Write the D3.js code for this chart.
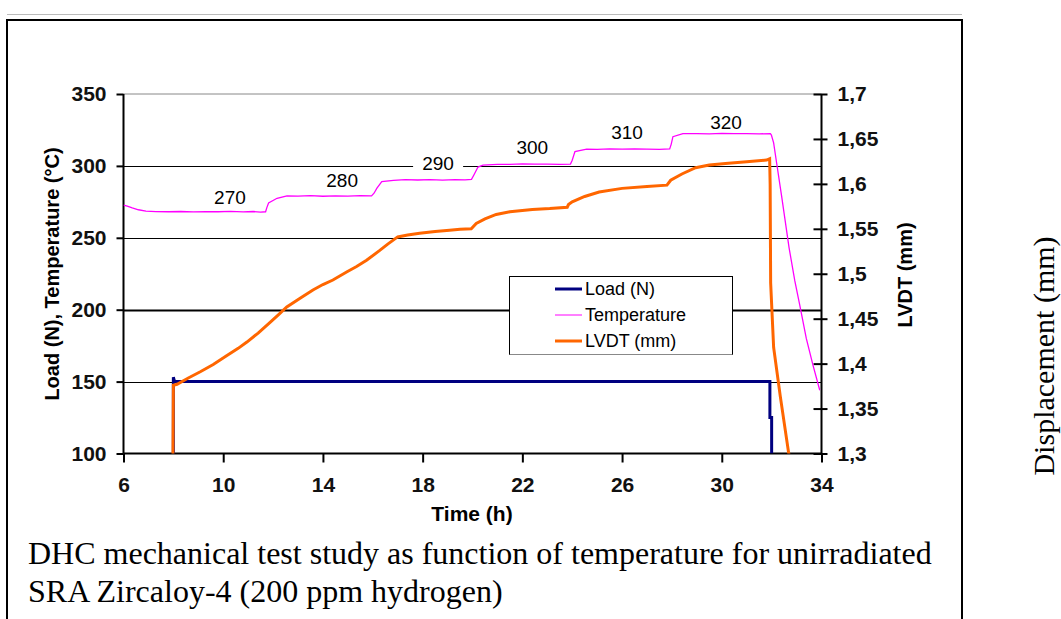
<!DOCTYPE html>
<html><head><meta charset="utf-8">
<script src="https://cdn.jsdelivr.net/npm/d3@7"></script>
<style>body{margin:0;background:#fff}svg{display:block}</style>
</head><body><svg id="c" width="1061" height="619"></svg>
<script>
// ---- data ----
const xTicks = [6, 10, 14, 18, 22, 26, 30, 34];
const leftTicks = [100, 150, 200, 250, 300, 350];
const rightTicks = [1.3, 1.35, 1.4, 1.45, 1.5, 1.55, 1.6, 1.65, 1.7];
const gridValues = [150, 200, 250, 300];

const loadTime  = [8.0, 8.0, 8.05, 31.93, 31.93, 32.0, 32.0];
const loadValue = [100, 153, 150, 150, 125, 125, 100];

const tempTime = [6.0, 6.15, 6.35, 6.6, 6.9, 7.3, 7.8, 8.3, 8.8, 9.3, 9.8, 10.3, 10.8, 11.2, 11.5, 11.7,
  11.75, 11.82, 12.16, 12.56, 13.0, 13.5, 14.0, 14.5, 15.0, 15.5, 15.95,
  16.05, 16.16, 16.36, 16.83, 17.3, 17.8, 18.3, 18.8, 19.3, 19.7, 19.96,
  20.05, 20.22, 20.42, 21.0, 21.5, 22.0, 22.5, 23.0, 23.5, 23.93,
  24.0, 24.11, 24.58, 25.0, 25.5, 26.0, 26.5, 27.0, 27.5, 27.91,
  27.97, 28.04, 28.44, 29.0, 29.5, 30.0, 30.5, 31.0, 31.5, 31.95,
  31.99, 32.08, 32.2, 32.4, 32.7, 32.93, 33.13, 33.39, 33.65, 33.93];
const tempValue = [272.8, 272.0, 270.8, 269.5, 268.6, 268.2, 268.1, 268.3, 268.0, 268.2, 268.1, 268.4, 268.0, 268.3, 267.8, 268.1,
  271.0, 274.2, 277.5, 279.1, 279.0, 279.3, 278.9, 279.2, 279.0, 279.3, 279.1,
  281.0, 284.4, 289.0, 290.0, 290.4, 290.2, 290.5, 290.1, 290.4, 290.3, 290.6,
  293.5, 299.2, 300.6, 301.1, 301.0, 301.4, 301.2, 301.3, 301.0, 301.3,
  304.0, 309.9, 311.7, 311.5, 311.8, 311.6, 311.9, 311.7, 311.5, 311.8,
  315.0, 320.3, 322.4, 322.5, 322.3, 322.6, 322.4, 322.5, 322.3, 322.4,
  321.5, 316, 302, 279, 243, 220, 203, 180, 162, 144];

const lvdtTime = [7.98, 8.0, 8.15, 8.6, 9.08, 9.6, 10.15, 10.6, 10.95, 11.4, 11.88, 12.2, 12.55, 13.1, 13.6, 14.0,
  14.4, 14.95, 15.35, 15.75, 16.28, 16.6, 17.0, 17.4, 17.88, 18.5, 19.08, 19.5, 19.95, 20.15, 20.5,
  20.95, 21.5, 22.4, 23.1, 23.8, 23.85, 24.0, 24.5, 25.08, 26.0, 27.0, 27.8, 27.95, 28.4, 28.95,
  29.5, 30.15, 31.0, 31.8, 31.92, 31.94, 31.96, 32.08, 32.35, 32.68, 32.75];
const lvdtValue = [1.28, 1.376, 1.377, 1.384, 1.391, 1.399, 1.409, 1.417, 1.424, 1.434, 1.446, 1.454, 1.463, 1.473, 1.482, 1.488,
  1.493, 1.502, 1.508, 1.515, 1.526, 1.533, 1.541, 1.543, 1.545, 1.547, 1.5485, 1.5495, 1.550, 1.556, 1.561,
  1.566, 1.569, 1.5715, 1.5725, 1.574, 1.577, 1.580, 1.586, 1.591, 1.595, 1.597, 1.5986, 1.604, 1.611, 1.618,
  1.621, 1.6228, 1.6245, 1.6265, 1.628, 1.600, 1.49, 1.418, 1.363, 1.301, 1.29];

const stepLabels = ["270", "280", "290", "300", "310", "320"];
const stepLabelTime = [10.27, 14.77, 18.62, 22.4, 26.2, 30.17];
const stepLabelTemp = [278.4, 290.2, 302.0, 313.1, 323.6, 330.5];

const seriesNames = ["Load (N)", "Temperature", "LVDT (mm)"];
const seriesColors = ["#000080", "#ff00ff", "#ff6600"];
const seriesWidths = [3, 1, 3];

// ---- layout ----
const svg = d3.select("#c");
const X0 = 123.5, X1 = 821.5, YT = 94, YB = 453.5;
const x = d3.scaleLinear().domain([6, 34]).range([X0, X1]);
const yL = d3.scaleLinear().domain([100, 350]).range([YB, YT]);
const yR = d3.scaleLinear().domain([1.3, 1.7]).range([YB, YT]);
const sans = "'Liberation Sans', Arial, sans-serif";
const serif = "'Liberation Serif', 'Times New Roman', serif";

// outer frame
svg.append("line").attr("x1", 7).attr("x2", 962).attr("y1", 14.5).attr("y2", 14.5).attr("stroke", "#bbb").attr("stroke-width", 1);
svg.append("path").attr("d", `M7,640 V20 H962 V640`).attr("fill", "none").attr("stroke", "#000").attr("stroke-width", 2);

// gridlines
svg.append("line").attr("x1", X0).attr("x2", X1).attr("y1", YT).attr("y2", YT).attr("stroke", "#888").attr("stroke-width", 1);
svg.append("g").selectAll("line").data(gridValues).join("line")
  .attr("x1", X0).attr("x2", X1)
  .attr("y1", d => Math.round(yL(d)) + 0.5).attr("y2", d => Math.round(yL(d)) + 0.5)
  .attr("stroke", "#000").attr("stroke-width", d => d === 200 ? 2 : 1);

// axes
const gL = svg.append("g").attr("transform", `translate(${X0},0)`)
  .call(d3.axisLeft(yL).tickValues(leftTicks).tickSize(7).tickPadding(10));
const gR = svg.append("g").attr("transform", `translate(${X1},0)`)
  .call(d3.axisRight(yR).tickValues(rightTicks).tickSize(6).tickPadding(10)
    .tickFormat(d => d3.format(".2~f")(d).replace(".", ",")));
gR.selectAll(".tick line").attr("x1", -8);
const gB = svg.append("g").attr("transform", `translate(0,${YB})`)
  .call(d3.axisBottom(x).tickValues(xTicks).tickSize(9).tickPadding(15));
[gL, gR, gB].forEach(g => {
  g.select(".domain").attr("stroke", "#000").attr("stroke-width", 2);
  g.selectAll(".tick line").attr("stroke", "#000").attr("stroke-width", 2);
  g.selectAll(".tick text").attr("font-family", sans).attr("font-size", 21).attr("font-weight", "bold").attr("fill", "#111");
});
gL.select(".domain").attr("d", `M0,${YB}V${YT}`);
gR.select(".domain").attr("d", `M0,${YB}V${YT}`);
gB.select(".domain").attr("d", `M${X0},0H${X1}`);

// axis titles
svg.append("text").attr("transform", `translate(59,274) rotate(-90)`).attr("text-anchor", "middle")
  .attr("font-family", sans).attr("font-size", 20).attr("font-weight", "bold").text("Load (N), Temperature (°C)");
svg.append("text").attr("transform", `translate(912,275) rotate(-90)`).attr("text-anchor", "middle")
  .attr("font-family", sans).attr("font-size", 20).attr("font-weight", "bold").text("LVDT (mm)");
svg.append("text").attr("x", 472).attr("y", 521).attr("text-anchor", "middle")
  .attr("font-family", sans).attr("font-size", 21).attr("font-weight", "bold").text("Time (h)");

// clip
svg.append("clipPath").attr("id", "plot").append("rect").attr("x", X0).attr("y", YT - 5).attr("width", X1 - X0).attr("height", YB - YT + 5);

// series
const toPts = (ts, vs) => ts.map((t, i) => [t, vs[i]]);
const lineL = d3.line().x(d => x(d[0])).y(d => yL(d[1]));
const lineR = d3.line().x(d => x(d[0])).y(d => yR(d[1]));
const gS = svg.append("g").attr("clip-path", "url(#plot)");
gS.append("path").datum(toPts(loadTime, loadValue)).attr("d", lineL)
  .attr("fill", "none").attr("stroke", seriesColors[0]).attr("stroke-width", seriesWidths[0]);
gS.append("path").datum(toPts(tempTime, tempValue)).attr("d", lineL)
  .attr("fill", "none").attr("stroke", seriesColors[1]).attr("stroke-width", 1.3);
gS.append("path").datum(toPts(lvdtTime, lvdtValue)).attr("d", lineR)
  .attr("fill", "none").attr("stroke", seriesColors[2]).attr("stroke-width", seriesWidths[2]);

// step labels
const gLab = svg.append("g");
stepLabels.forEach((s, i) => {
  const cx = x(stepLabelTime[i]), cy = yL(stepLabelTemp[i]);
  gLab.append("rect").attr("x", cx - 25).attr("y", cy - 10).attr("width", 50).attr("height", 20).attr("fill", "#fff");
  gLab.append("text").attr("x", cx).attr("y", cy + 7).attr("text-anchor", "middle")
    .attr("font-family", sans).attr("font-size", 19).attr("fill", "#000").text(s);
});

// legend
const lg = svg.append("g");
lg.append("rect").attr("x", 509.5).attr("y", 276.5).attr("width", 223).attr("height", 78)
  .attr("fill", "#fff").attr("stroke", "#000").attr("stroke-width", 1);
lg.append("line").attr("x1", 509.5).attr("x2", 732.5).attr("y1", 354.5).attr("y2", 354.5).attr("stroke", "#888");
seriesNames.forEach((n, i) => {
  const yy = 289 + i * 26;
  lg.append("line").attr("x1", 555).attr("x2", 582).attr("y1", yy).attr("y2", yy)
    .attr("stroke", seriesColors[i]).attr("stroke-width", seriesWidths[i]);
  lg.append("text").attr("x", 585).attr("y", yy + 6).attr("font-family", sans).attr("font-size", 18).text(n);
});

// caption & side label
svg.append("text").attr("x", 28).attr("y", 564).attr("font-family", serif).attr("font-size", 32)
  .text("DHC mechanical test study as function of temperature for unirradiated");
svg.append("text").attr("x", 28).attr("y", 602).attr("font-family", serif).attr("font-size", 32)
  .text("SRA Zircaloy-4 (200 ppm hydrogen)");
svg.append("text").attr("transform", `translate(1054,356) rotate(-90)`).attr("text-anchor", "middle")
  .attr("font-family", serif).attr("font-size", 30).text("Displacement (mm)");
</script></body></html>
